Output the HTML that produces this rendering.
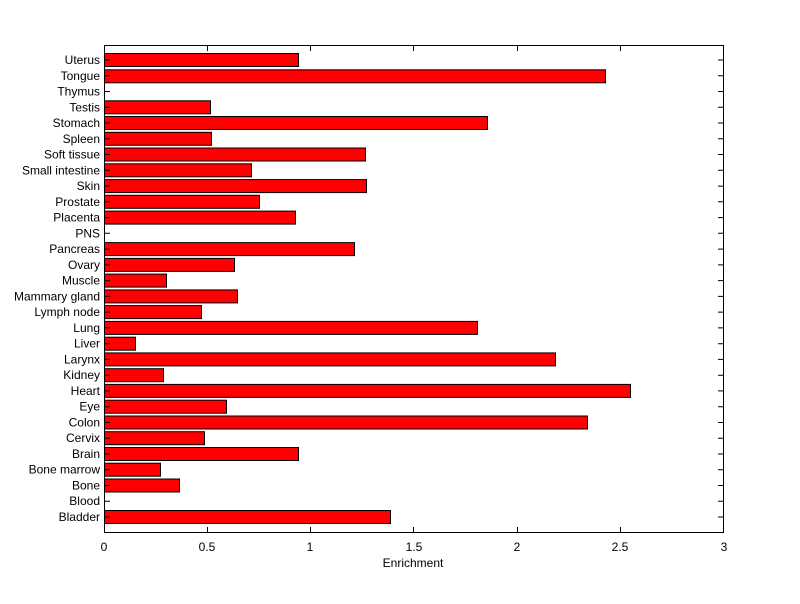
<!DOCTYPE html>
<html><head><style>body{margin:0;background:#fff}svg text{font-family:"Liberation Sans",sans-serif;font-size:12px;fill:#000}</style></head>
<body>
<svg width="800" height="599" xmlns="http://www.w3.org/2000/svg">
<rect width="800" height="599" fill="#fff"/>
<g fill="#f00" stroke="#000" stroke-width="1">
<rect x="104.5" y="510.5" width="286" height="13"/>
<rect x="104.5" y="479" width="75" height="13"/>
<rect x="104.5" y="463.2" width="56" height="13"/>
<rect x="104.5" y="447.5" width="194" height="13"/>
<rect x="104.5" y="431.7" width="100" height="13"/>
<rect x="104.5" y="416" width="483" height="13"/>
<rect x="104.5" y="400.2" width="122" height="13"/>
<rect x="104.5" y="384.4" width="526" height="13"/>
<rect x="104.5" y="368.7" width="59" height="13"/>
<rect x="104.5" y="352.9" width="451" height="13"/>
<rect x="104.5" y="337.2" width="31" height="13"/>
<rect x="104.5" y="321.4" width="373" height="13"/>
<rect x="104.5" y="305.6" width="97" height="13"/>
<rect x="104.5" y="289.9" width="133" height="13"/>
<rect x="104.5" y="274.1" width="62" height="13"/>
<rect x="104.5" y="258.4" width="130" height="13"/>
<rect x="104.5" y="242.6" width="250" height="13"/>
<rect x="104.5" y="211.1" width="191" height="13"/>
<rect x="104.5" y="195.3" width="155" height="13"/>
<rect x="104.5" y="179.6" width="262" height="13"/>
<rect x="104.5" y="163.8" width="147" height="13"/>
<rect x="104.5" y="148" width="261" height="13"/>
<rect x="104.5" y="132.3" width="107" height="13"/>
<rect x="104.5" y="116.5" width="383" height="13"/>
<rect x="104.5" y="100.8" width="106" height="13"/>
<rect x="104.5" y="69.8" width="501" height="13"/>
<rect x="104.5" y="53.5" width="194" height="13"/>
</g>
<path stroke="#000" fill="none" d="M104 517h6M104 501.2h6M104 485.5h6M104 469.7h6M104 454h6M104 438.2h6M104 422.5h6M104 406.7h6M104 390.9h6M104 375.2h6M104 359.4h6M104 343.7h6M104 327.9h6M104 312.1h6M104 296.4h6M104 280.6h6M104 264.9h6M104 249.1h6M104 233.3h6M104 217.6h6M104 201.8h6M104 186.1h6M104 170.3h6M104 154.5h6M104 138.8h6M104 123h6M104 107.3h6M104 91.5h6M104 75.8h6M104 60h6
M724 517h-6M724 501.2h-6M724 485.5h-6M724 469.7h-6M724 454h-6M724 438.2h-6M724 422.5h-6M724 406.7h-6M724 390.9h-6M724 375.2h-6M724 359.4h-6M724 343.7h-6M724 327.9h-6M724 312.1h-6M724 296.4h-6M724 280.6h-6M724 264.9h-6M724 249.1h-6M724 233.3h-6M724 217.6h-6M724 201.8h-6M724 186.1h-6M724 170.3h-6M724 154.5h-6M724 138.8h-6M724 123h-6M724 107.3h-6M724 91.5h-6M724 75.8h-6M724 60h-6
M207.5 533v-6M310.5 533v-6M413.5 533v-6M517.5 533v-6M620.5 533v-6M207.5 45v6M310.5 45v6M413.5 45v6M517.5 45v6M620.5 45v6"/>
<rect x="104.5" y="45.5" width="619" height="487" fill="none" stroke="#000"/>
<g text-anchor="end">
<text x="100" y="521">Bladder</text>
<text x="100" y="505.2">Blood</text>
<text x="100" y="489.5">Bone</text>
<text x="100" y="473.7">Bone marrow</text>
<text x="100" y="458">Brain</text>
<text x="100" y="442.2">Cervix</text>
<text x="100" y="426.5">Colon</text>
<text x="100" y="410.7">Eye</text>
<text x="100" y="394.9">Heart</text>
<text x="100" y="379.2">Kidney</text>
<text x="100" y="363.4">Larynx</text>
<text x="100" y="347.7">Liver</text>
<text x="100" y="331.9">Lung</text>
<text x="100" y="316.1">Lymph node</text>
<text x="100" y="300.4">Mammary gland</text>
<text x="100" y="284.6">Muscle</text>
<text x="100" y="268.9">Ovary</text>
<text x="100" y="253.1">Pancreas</text>
<text x="100" y="237.3">PNS</text>
<text x="100" y="221.6">Placenta</text>
<text x="100" y="205.8">Prostate</text>
<text x="100" y="190.1">Skin</text>
<text x="100" y="174.3">Small intestine</text>
<text x="100" y="158.5">Soft tissue</text>
<text x="100" y="142.8">Spleen</text>
<text x="100" y="127">Stomach</text>
<text x="100" y="111.3">Testis</text>
<text x="100" y="95.5">Thymus</text>
<text x="100" y="79.8">Tongue</text>
<text x="100" y="64">Uterus</text>
</g>
<g text-anchor="middle">
<text x="104" y="551">0</text>
<text x="207" y="551">0.5</text>
<text x="310" y="551">1</text>
<text x="414" y="551">1.5</text>
<text x="517" y="551">2</text>
<text x="620" y="551">2.5</text>
<text x="724" y="551">3</text>
<text x="413" y="567">Enrichment</text>
</g>
</svg>
</body></html>
